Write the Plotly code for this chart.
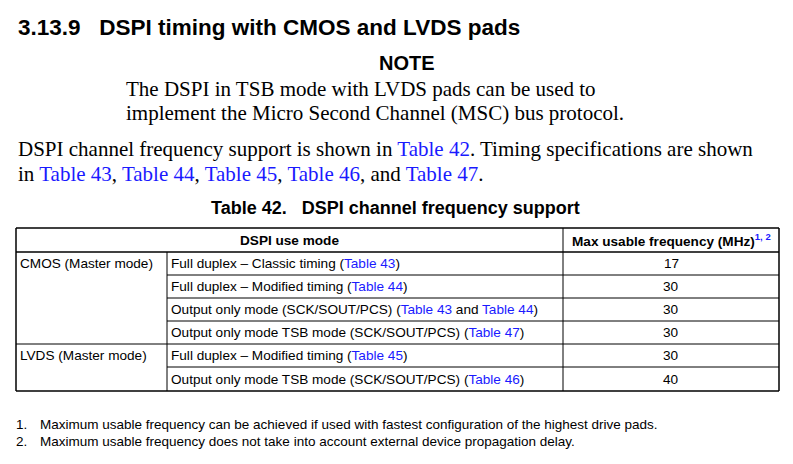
import plotly.graph_objects as go

BLUE = "#1a1aff"
NB = "\u00a0"
def link(t):
    return "<span style='color:%s'>%s</span>" % (BLUE, t)

# table content
groups = ["CMOS (Master mode)", "", "", "", "LVDS (Master mode)", ""]
modes = [
    "Full duplex – Classic timing (" + link("Table 43") + ")",
    "Full duplex – Modified timing (" + link("Table 44") + ")",
    "Output only mode (SCK/SOUT/PCS) (" + link("Table 43") + " and " + link("Table 44") + ")",
    "Output only mode TSB mode (SCK/SOUT/PCS) (" + link("Table 47") + ")",
    "Full duplex – Modified timing (" + link("Table 45") + ")",
    "Output only mode TSB mode (SCK/SOUT/PCS) (" + link("Table 46") + ")",
]
freqs = [17, 30, 30, 30, 30, 40]
footnotes = [
    "Maximum usable frequency can be achieved if used with fastest configuration of the highest drive pads.",
    "Maximum usable frequency does not take into account external device propagation delay.",
]

SANS = "Liberation Sans"
SERIF = "Liberation Serif"

fig = go.Figure()
ann = []
shapes = []

def txt(x, y, s, size, font=SANS, anchor="left", bold=False):
    if bold:
        s = "<b>" + s + "</b>"
    ann.append(dict(x=x, y=y, xref="x", yref="y", text=s, showarrow=False,
                    xanchor=anchor, yanchor="middle",
                    font=dict(family=font, size=size, color="black")))

def line(x0, y0, x1, y1, w=1):
    shapes.append(dict(type="line", xref="x", yref="y", x0=x0, y0=y0, x1=x1, y1=y1,
                       line=dict(color="black", width=w)))

txt(16, 27, "3.13.9" + NB * 3 + "DSPI timing with CMOS and LVDS pads", 22.5, bold=True)
txt(407, 63, "NOTE", 20, anchor="center", bold=True)
txt(124, 89, "The DSPI in TSB mode with LVDS pads can be used to", 21, SERIF)
txt(124, 113, "implement the Micro Second Channel (MSC) bus protocol.", 21, SERIF)
txt(16, 149, "DSPI channel frequency support is shown in " + link("Table 42") +
    ". Timing specifications are shown", 21, SERIF)
txt(16, 174, "in " + link("Table 43") + ", " + link("Table 44") + ", " + link("Table 45") + ", " +
    link("Table 46") + ", and " + link("Table 47") + ".", 21, SERIF)
txt(395, 208, "Table 42." + NB * 3 + "DSPI channel frequency support", 18, anchor="center", bold=True)

# table grid
xl, xc1, xc2, xr = 16, 167, 563, 779
ytop, yhead = 228, 252
rows_y = [252, 275, 298, 321, 344, 367, 391]
line(xl, ytop, xr, ytop, 1.5)
line(xl, yhead, xr, yhead, 1.5)
line(xl, rows_y[-1], xr, rows_y[-1], 1.5)
line(xl, ytop, xl, rows_y[-1], 1.5)
line(xr, ytop, xr, rows_y[-1], 1.5)
line(xc2, ytop, xc2, rows_y[-1])
line(xc1, yhead, xc1, rows_y[-1])
for i in range(1, len(rows_y) - 1):
    x0 = xl if groups[i] else xc1
    line(x0, rows_y[i], xr, rows_y[i])

txt((xl + xc2) / 2, 240, "DSPI use mode", 13.6, anchor="center", bold=True)
txt((xc2 + xr) / 2, 240, "Max usable frequency (MHz)" +
    "<sup>" + link("1, 2") + "</sup>", 13.6, anchor="center", bold=True)
for i in range(len(modes)):
    yc = (rows_y[i] + rows_y[i + 1]) / 2
    if groups[i]:
        txt(xl + 2, yc, groups[i], 13.6)
    txt(xc1 + 2, yc, modes[i], 13.6)
    txt((xc2 + xr) / 2, yc, str(freqs[i]), 13.6, anchor="center")

for i, f in enumerate(footnotes):
    y = 424 + i * 17
    txt(14, y, "%d." % (i + 1), 13.5)
    txt(38, y, f, 13.5)

# page body has an 8px margin; offset the ranges so coordinates match page pixels
fig.update_layout(
    width=793, height=464, margin=dict(l=0, r=0, t=0, b=0),
    paper_bgcolor="white", plot_bgcolor="white",
    xaxis=dict(range=[8, 801], visible=False, fixedrange=True),
    yaxis=dict(range=[472, 8], visible=False, fixedrange=True),
    annotations=ann, shapes=shapes, showlegend=False,
)
fig.write_html("out.html")
